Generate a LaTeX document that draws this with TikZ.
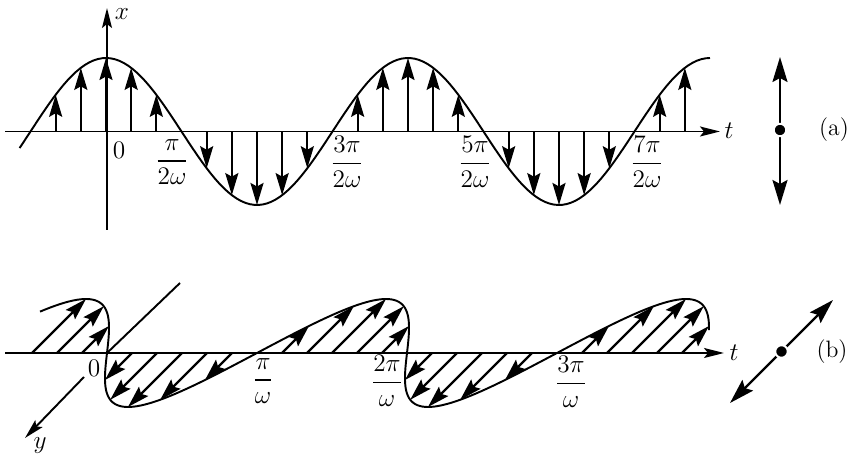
\documentclass[tikz,border=0pt]{standalone}
\usepackage{amsmath}
\usepackage{tikz}
\usetikzlibrary{arrows.meta}
\tikzset{
    curve/.style={line width=1.1pt},
    axis/.style={line width=1.1pt, -{Stealth[length=0.4cm, width=0.2cm, inset=0.08cm]}},
    vec/.style={line width=1.3pt, -{Stealth[length=0.44cm, width=0.26cm, inset=0.07cm]}},
    both/.style={line width=1.3pt, {Stealth[length=0.5cm, width=0.3cm, inset=0.08cm]}-{Stealth[length=0.5cm, width=0.3cm, inset=0.08cm]}},
    dot/.style={circle, fill=black, draw=white, line width=1.1pt, inner sep=0pt, minimum size=0.25cm},
    lbl/.style={inner sep=1pt, font=\fontsize{13.5}{16}\selectfont}
}

\begin{document}
\begin{tikzpicture}[x=0.02cm, y=-0.02cm]
        \useasboundingbox (0,0) rectangle (850,455);
        % (a): x(t) along the vertical
        \coordinate (ta0) at (5,131.5);
        \coordinate (ta1) at (720,131.5);
        \coordinate (xa0) at (107,230);
        \coordinate (xa1) at (107,8);
        \draw[axis] (ta0) -- (ta1);
        \draw[axis] (xa0) -- (xa1);
        \node[lbl] (tlaba) at (729,131) {$t$};
        \node[lbl] (xlab) at (122,14) {$x$};
        \draw[curve] plot[domain=-103:720, samples=160] ({106+\x/90*75.5}, {131.5-73.5*cos(\x)});
        \foreach \k in {-60,-30,0,30,60,120,150,180,210,240,300,330,360,390,420,480,510,540,570,600,660,690}
            \draw[vec] ({106+\k/90*75.5},131.5) -- ++(0,{-73.5*cos(\k)});
        \node[lbl] (za) at (119,150) {$0$};
        \node[lbl] (q1) at (172,162) {$\dfrac{\pi}{2\omega}$};
        \node[lbl] (q3) at (347,162) {$\dfrac{3\pi}{2\omega}$};
        \node[lbl] (q5) at (475,162) {$\dfrac{5\pi}{2\omega}$};
        \node[lbl] (q7) at (647,162) {$\dfrac{7\pi}{2\omega}$};
        \coordinate (ua) at (780,57);
        \coordinate (da) at (780,205);
        \draw[both] (ua) -- (da);
        \node[dot] (ca) at (780,130) {};
        \node[lbl] (tagA) at (834,130) {(a)};

        % (b): y(t) along the oblique axis
        \coordinate (tb0) at (5,353);
        \coordinate (tb1) at (724,353);
        \coordinate (ob) at (107,353);
        \coordinate (yb0) at (180,283);
        \coordinate (yb1) at (84,377);
        \coordinate (yb2) at (25,438);
        \draw[axis] (tb0) -- (tb1);
        \draw[curve] (yb0) -- (ob);
        \draw[axis] (yb1) -- (yb2);
        \node[lbl] (tlabb) at (734,353) {$t$};
        \node[lbl] (ylab) at (40,446) {$y$};
        \draw[curve] plot[domain=-130:695, samples=220] ({107+\x/180*150-54*sin(\x)}, {353+54*sin(\x)});
        \foreach \k in {-90,-60,-30,30,60,90,120,150,210,240,270,300,330,390,420,450,480,510,570,600,630,660,690}
            \draw[vec] ({107+\k/180*150},353) -- ++({-54*sin(\k)},{54*sin(\k)});
        \node[lbl] (zb) at (94,368) {$0$};
        \node[lbl] (h1) at (263,381) {$\dfrac{\pi}{\omega}$};
        \node[lbl] (h2) at (387,381) {$\dfrac{2\pi}{\omega}$};
        \node[lbl] (h3) at (571,382) {$\dfrac{3\pi}{\omega}$};
        \coordinate (ub) at (833,300);
        \coordinate (db) at (730,403);
        \draw[both] (ub) -- (db);
        \node[dot] (cb) at (781.5,351.5) {};
        \node[lbl] (tagB) at (832,352) {(b)};
    \end{tikzpicture}
\end{document}
